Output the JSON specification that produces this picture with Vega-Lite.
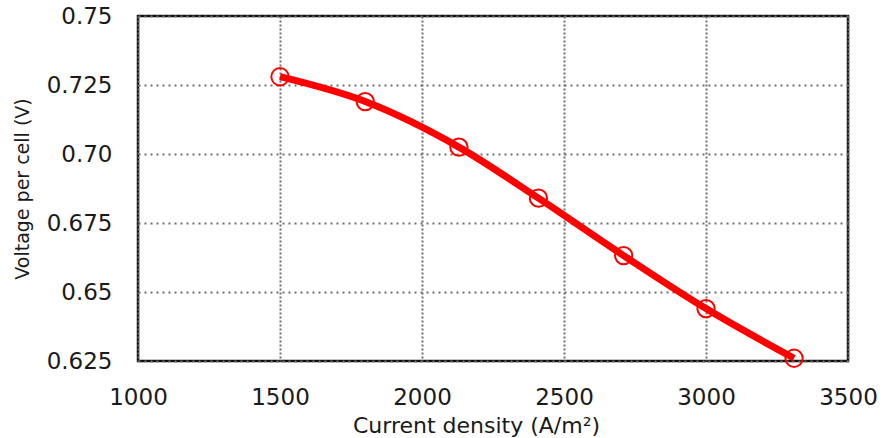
{
  "$schema": "https://vega.github.io/schema/vega-lite/v6.json",
  "width": 710,
  "height": 345,
  "autosize": {"type": "none"},
  "padding": {"left": 138, "top": 16, "right": 37, "bottom": 77},
  "background": "white",
  "config": {
    "view": {"stroke": "#111", "strokeWidth": 2.5},
    "font": "DejaVu Sans"
  },
  "data": {
    "values": [
      {"current": 1500, "voltage": 0.728},
      {"current": 1800, "voltage": 0.719},
      {"current": 2130, "voltage": 0.7025},
      {"current": 2410, "voltage": 0.684},
      {"current": 2710, "voltage": 0.6632},
      {"current": 3000, "voltage": 0.644},
      {"current": 3310, "voltage": 0.626}
    ]
  },
  "encoding": {
    "x": {
      "field": "current",
      "type": "quantitative",
      "scale": {"domain": [1000, 3500], "nice": false, "zero": false},
      "axis": {
        "title": "Current density (A/m²)",
        "values": [1000, 1500, 2000, 2500, 3000, 3500],
        "format": "d",
        "ticks": false,
        "domain": false,
        "grid": true,
        "gridColor": "#707070",
        "gridWidth": 2,
        "gridDash": [2, 2],
        "labelFont": "DejaVu Sans",
        "labelFontSize": 23,
        "labelColor": "#1a1a1a",
        "labelPadding": 25,
        "labelFlush": false,
        "titleFont": "DejaVu Sans",
        "titleFontSize": 22,
        "titleFontWeight": "normal",
        "titleColor": "#1a1a1a",
        "titleX": 338,
        "titleAlign": "center",
        "titlePadding": 6
      }
    },
    "y": {
      "field": "voltage",
      "type": "quantitative",
      "scale": {"domain": [0.625, 0.75], "nice": false, "zero": false},
      "axis": {
        "title": "Voltage per cell (V)",
        "values": [0.625, 0.65, 0.675, 0.7, 0.725, 0.75],
        "labelExpr": "round(datum.value*1000)%10==0 ? format(datum.value,'.2f') : format(datum.value,'.3f')",
        "ticks": false,
        "domain": false,
        "grid": true,
        "gridColor": "#707070",
        "gridWidth": 2,
        "gridDash": [2, 4],
        "labelFont": "DejaVu Sans",
        "labelFontSize": 23,
        "labelColor": "#1a1a1a",
        "labelPadding": 26,
        "labelFlush": false,
        "titleFont": "DejaVu Sans",
        "titleFontSize": 19,
        "titleFontWeight": "normal",
        "titleColor": "#1a1a1a",
        "titlePadding": 14
      }
    }
  },
  "layer": [
    {
      "mark": {"type": "line", "color": "#ff0000", "strokeWidth": 7, "interpolate": "monotone", "strokeCap": "butt"}
    },
    {
      "mark": {"type": "point", "shape": "circle", "filled": false, "color": "#ff0000", "size": 300, "strokeWidth": 2, "opacity": 1}
    }
  ]
}
